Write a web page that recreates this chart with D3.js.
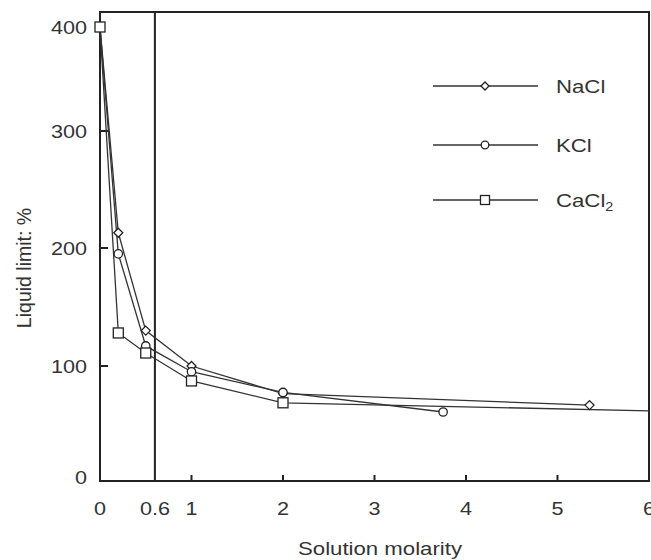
<!DOCTYPE html>
<html>
<head>
<meta charset="utf-8">
<script src="https://cdn.jsdelivr.net/npm/d3@7"></script>
<style>
  body { margin: 0; background: #fff; }
  text { font-family: "Liberation Sans", Arial, sans-serif; fill: #333; }
</style>
</head>
<body>
<div id="chart"></div>
<script>
var w = 651;
var h = 560;

// data
var naclX = [0, 0.2, 0.5, 1, 2, 5.35];
var naclY = [400, 213, 130, 100, 76, 66];
var kclX = [0, 0.2, 0.5, 1, 2, 3.75];
var kclY = [400, 195, 117, 95, 77, 60];
var cacl2X = [0, 0.2, 0.5, 1, 2, 6];
var cacl2Y = [400, 128, 111, 87, 68, 61];

var xTicks = [0, 0.6, 1, 2, 3, 4, 5, 6];
var yTicks = [0, 100, 200, 300, 400];
var seriesNames = ["NaCl", "KCl", "CaCl2"];
var markers = ["diamond", "circle", "square"];

var plotLeft = 100, plotRight = 649, plotTop = 12, plotBottom = 481;
var stretch = 1.2; // printed glyphs are wider than they are tall

var xScale = d3.scaleLinear().domain([0, 6]).range([plotLeft, plotRight]);
// the printed axis is not evenly spaced, so follow its tick positions
var yScale = d3
  .scaleLinear()
  .domain([0, 100, 200, 300, 400, 414])
  .range([plotBottom, 366, 248, 131, 27, plotTop]);

var svg = d3.select("#chart").append("svg").attr("width", w).attr("height", h);

function toPoints(xs, ys) {
  return xs.map(function (x, i) {
    return [x, ys[i]];
  });
}

var series = [
  toPoints(naclX, naclY),
  toPoints(kclX, kclY),
  toPoints(cacl2X, cacl2Y)
];

function label(x, y, size, anchor) {
  return svg
    .append("text")
    .attr("transform", "translate(" + x + "," + y + ") scale(" + stretch + ",1)")
    .attr("text-anchor", anchor)
    .attr("font-size", size);
}

// frame
svg
  .append("rect")
  .attr("x", plotLeft)
  .attr("y", plotTop)
  .attr("width", plotRight - plotLeft)
  .attr("height", plotBottom - plotTop)
  .attr("fill", "none")
  .attr("stroke", "#222")
  .attr("stroke-width", 2);

// y axis ticks (inside) and labels
svg
  .selectAll(".ytick")
  .data(yTicks.filter(function (d) { return d > 0 && d < 400; }))
  .enter()
  .append("line")
  .attr("x1", plotLeft)
  .attr("x2", plotLeft + 8)
  .attr("y1", function (d) { return yScale(d); })
  .attr("y2", function (d) { return yScale(d); })
  .attr("stroke", "#222")
  .attr("stroke-width", 2);

yTicks.forEach(function (d) {
  var y = d === 0 ? yScale(d) - 4 : yScale(d);
  label(87, y + 6.5, 18, "end").text(d);
});

// x axis ticks (inside) and labels
svg
  .selectAll(".xtick")
  .data(xTicks.filter(function (d) { return d >= 1 && d < 6; }))
  .enter()
  .append("line")
  .attr("x1", function (d) { return xScale(d); })
  .attr("x2", function (d) { return xScale(d); })
  .attr("y1", plotBottom)
  .attr("y2", plotBottom - 6)
  .attr("stroke", "#222")
  .attr("stroke-width", 2);

xTicks.forEach(function (d) {
  label(xScale(d), 515, 18, "middle").text(d);
});

// vertical line at 0.6 M
svg
  .append("line")
  .attr("x1", xScale(0.6))
  .attr("x2", xScale(0.6))
  .attr("y1", plotTop)
  .attr("y2", plotBottom)
  .attr("stroke", "#222")
  .attr("stroke-width", 2);

// axis titles
label(380, 555, 18.5, "middle").text("Solution molarity");

svg
  .append("text")
  .attr("transform", "translate(31,268) rotate(-90)")
  .attr("text-anchor", "middle")
  .attr("font-size", 19.5)
  .text("Liquid limit: %");

// marker drawing
function drawMarker(g, type, x, y, big) {
  if (type === "diamond") {
    var s = big ? 4.5 : 4;
    g.append("path")
      .attr("d", "M" + x + "," + (y - s) + "L" + (x + s) + "," + y + "L" + x + "," + (y + s) + "L" + (x - s) + "," + y + "Z")
      .attr("fill", "#fff")
      .attr("stroke", "#222")
      .attr("stroke-width", 1.3);
  } else if (type === "circle") {
    g.append("circle")
      .attr("cx", x)
      .attr("cy", y)
      .attr("r", big ? 4.2 : 3.8)
      .attr("fill", "#fff")
      .attr("stroke", "#222")
      .attr("stroke-width", 1.3);
  } else {
    var a = big ? 10 : 9;
    g.append("rect")
      .attr("x", x - a / 2)
      .attr("y", y - a / 2)
      .attr("width", a)
      .attr("height", a)
      .attr("fill", "#fff")
      .attr("stroke", "#222")
      .attr("stroke-width", 1.3);
  }
}

var line = d3
  .line()
  .x(function (d) { return xScale(d[0]); })
  .y(function (d) { return yScale(d[1]); });

var plot = svg.append("g");

series.forEach(function (pts) {
  plot
    .append("path")
    .attr("d", line(pts))
    .attr("fill", "none")
    .attr("stroke", "#333")
    .attr("stroke-width", 1.3);
});

series.forEach(function (pts, i) {
  pts.forEach(function (p) {
    if (p[0] < 6) drawMarker(plot, markers[i], xScale(p[0]), yScale(p[1]), true);
  });
});

// legend
var legendY = [86, 145, 200];
var legend = svg.append("g");
seriesNames.forEach(function (name, i) {
  legend
    .append("line")
    .attr("x1", 433)
    .attr("x2", 538)
    .attr("y1", legendY[i])
    .attr("y2", legendY[i])
    .attr("stroke", "#333")
    .attr("stroke-width", 1.3);
  drawMarker(legend, markers[i], 485, legendY[i], false);
  var t = label(556, legendY[i] + 6.5, 18.5, "start");
  if (name === "CaCl2") {
    t.append("tspan").text("CaCl");
    t.append("tspan").attr("font-size", 12).attr("dy", "0.4em").text("2");
  } else {
    t.text(name);
  }
});
</script>
</body>
</html>
